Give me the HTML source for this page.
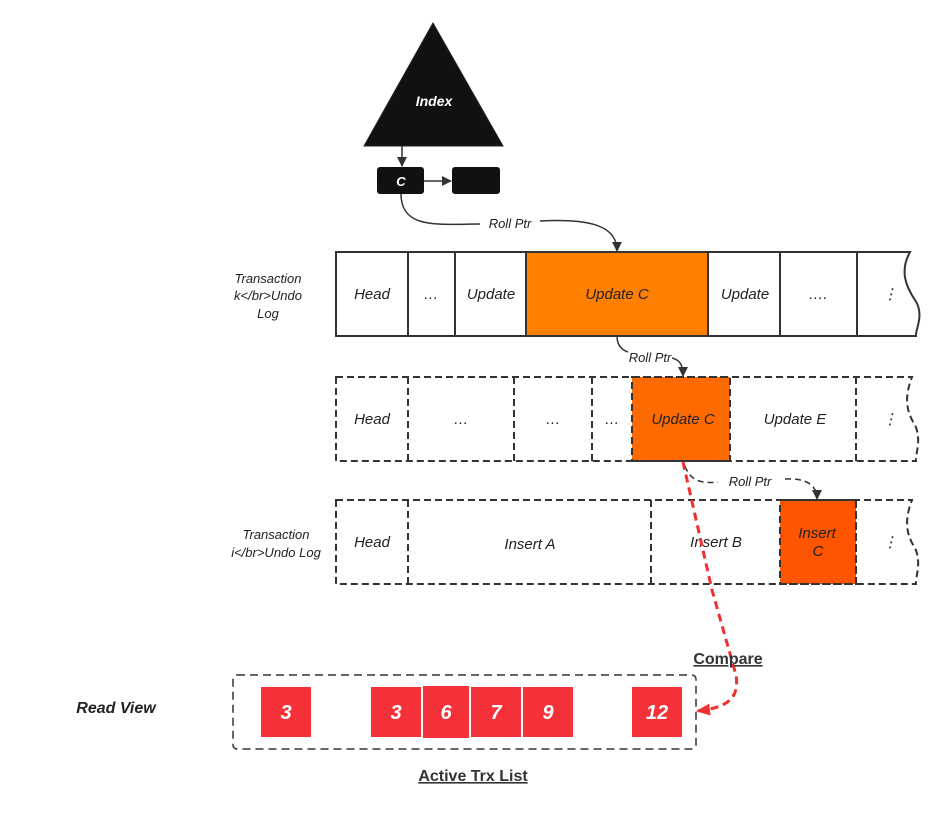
<!DOCTYPE html>
<html><head><style>
body{margin:0;background:#fff;}
svg text{font-family:"Liberation Sans",sans-serif;font-style:italic;fill:#222;}
</style></head><body>
<svg width="945" height="818" viewBox="0 0 945 818" xmlns="http://www.w3.org/2000/svg">
<defs>
<marker id="a" markerWidth="10" markerHeight="10" refX="9" refY="5" orient="auto" markerUnits="userSpaceOnUse"><path d="M0,0 L10,5 L0,10 z" fill="#333"/></marker>
<marker id="r" markerWidth="14" markerHeight="12" refX="13" refY="6" orient="auto" markerUnits="userSpaceOnUse"><path d="M0,0 L14,6 L0,12 z" fill="#f03030"/></marker>
</defs>
<polygon points="433,23 364,146 503,146" fill="#111" stroke="#222"/>
<text x="434" y="106" font-size="14" font-weight="bold" text-anchor="middle" style="fill:#fff">Index</text>
<line x1="402" y1="146" x2="402" y2="166" stroke="#333" stroke-width="1.5" marker-end="url(#a)"/>
<rect x="377" y="167" width="47" height="27" rx="3" fill="#111"/>
<text x="401" y="186" font-size="13" font-weight="bold" text-anchor="middle" style="fill:#fff">C</text>
<rect x="452" y="167" width="48" height="27" rx="3" fill="#111"/>
<line x1="424" y1="181" x2="451" y2="181" stroke="#333" stroke-width="1.5" marker-end="url(#a)"/>
<path d="M401,194 C401,230 440,224 480,224" fill="none" stroke="#333" stroke-width="1.5"/>
<path d="M540,221 C600,218 617,230 617,251" fill="none" stroke="#333" stroke-width="1.5" marker-end="url(#a)"/>
<text x="510" y="228" font-size="13" text-anchor="middle">Roll Ptr</text>

<g stroke="#333" stroke-width="2">
<rect x="526" y="252" width="182" height="84" fill="#ff8000"/>
<path d="M336,252 H910 C900,270 905,285 915,300 C925,315 915,330 916,336 H336 Z" fill="none"/>
<line x1="408" y1="252" x2="408" y2="336"/><line x1="455" y1="252" x2="455" y2="336"/>
<line x1="780" y1="252" x2="780" y2="336"/><line x1="857" y1="252" x2="857" y2="336"/>
</g>
<g font-size="15" text-anchor="middle">
<text x="372" y="299">Head</text><text x="431" y="299">…</text><text x="491" y="299">Update</text>
<text x="617" y="299">Update C</text><text x="745" y="299">Update</text><text x="818" y="299">….</text><text x="890" y="299">⋮</text>
</g>
<text x="268" y="283" font-size="13" text-anchor="middle">Transaction</text>
<text x="268" y="300" font-size="13" text-anchor="middle">k&lt;/br&gt;Undo</text>
<text x="268" y="318" font-size="13" text-anchor="middle">Log</text>

<path d="M617,336 C617,346 622,350 628,352" fill="none" stroke="#333" stroke-width="1.5"/>
<path d="M672,358 C680,360 683,365 683,376" fill="none" stroke="#333" stroke-width="1.5" marker-end="url(#a)"/>
<text x="650" y="362" font-size="13" text-anchor="middle">Roll Ptr</text>

<g stroke="#333" stroke-width="2" stroke-dasharray="7,4">
<rect x="632" y="377" width="98" height="84" fill="#ff6a00"/>
<path d="M336,377 H912 C905,395 905,410 915,425 C922,440 915,455 916,461 H336 Z" fill="none"/>
<line x1="408" y1="377" x2="408" y2="461"/><line x1="514" y1="377" x2="514" y2="461"/>
<line x1="592" y1="377" x2="592" y2="461"/><line x1="856" y1="377" x2="856" y2="461"/>
</g>
<g font-size="15" text-anchor="middle">
<text x="372" y="424">Head</text><text x="461" y="424">…</text><text x="553" y="424">…</text><text x="612" y="424">…</text>
<text x="683" y="424">Update C</text><text x="795" y="424">Update E</text><text x="890" y="424">⋮</text>
</g>

<path d="M685,466 C690,480 700,484 718,482" fill="none" stroke="#333" stroke-width="1.5" stroke-dasharray="6,4"/>
<path d="M785,479 C805,478 817,484 817,499" fill="none" stroke="#333" stroke-width="1.5" stroke-dasharray="6,4" marker-end="url(#a)"/>
<text x="750" y="486" font-size="13" text-anchor="middle">Roll Ptr</text>

<g stroke="#333" stroke-width="2" stroke-dasharray="7,4">
<rect x="780" y="500" width="76" height="84" fill="#ff5500"/>
<path d="M336,500 H912 C905,518 905,533 915,548 C922,563 915,578 916,584 H336 Z" fill="none"/>
<line x1="408" y1="500" x2="408" y2="584"/><line x1="651" y1="500" x2="651" y2="584"/>
<line x1="856" y1="500" x2="856" y2="584"/>
</g>
<g font-size="15" text-anchor="middle">
<text x="372" y="547">Head</text><text x="530" y="549">Insert A</text><text x="716" y="547">Insert B</text>
<text x="817" y="538">Insert</text><text x="818" y="556">C</text><text x="890" y="547">⋮</text>
</g>
<text x="276" y="539" font-size="13" text-anchor="middle">Transaction</text>
<text x="276" y="557" font-size="13" text-anchor="middle">i&lt;/br&gt;Undo Log</text>

<path d="M683,462 L712,590 L736,675 C740,700 725,708 697,711" fill="none" stroke="#f03030" stroke-width="3" stroke-dasharray="8,5" marker-end="url(#r)"/>

<rect x="233" y="675" width="463" height="74" rx="4" fill="none" stroke="#333" stroke-width="1.5" stroke-dasharray="8,5"/>
<g fill="#f43038">
<rect x="261" y="687" width="50" height="50"/><rect x="371" y="687" width="50" height="50"/>
<rect x="423" y="686" width="46" height="52"/><rect x="471" y="687" width="50" height="50"/>
<rect x="523" y="687" width="50" height="50"/><rect x="632" y="687" width="50" height="50"/>
</g>
<g font-size="20" font-weight="bold" text-anchor="middle">
<text x="286" y="719" style="fill:#fff">3</text><text x="396" y="719" style="fill:#fff">3</text><text x="446" y="719" style="fill:#fff">6</text>
<text x="496" y="719" style="fill:#fff">7</text><text x="548" y="719" style="fill:#fff">9</text><text x="657" y="719" style="fill:#fff">12</text>
</g>
<text x="116" y="713" font-size="16" font-weight="bold" text-anchor="middle">Read View</text>
<text x="728" y="664" font-size="16" font-weight="bold" text-anchor="middle" text-decoration="underline" style="font-style:normal;fill:#333">Compare</text>
<text x="473" y="781" font-size="16" font-weight="bold" text-anchor="middle" text-decoration="underline" style="font-style:normal;fill:#333">Active Trx List</text>
</svg>
</body></html>
